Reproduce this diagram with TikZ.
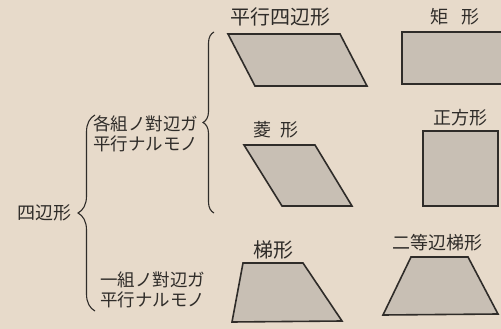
\documentclass[tikz,border=0pt]{standalone}
\usepackage{fontspec}
\setmainfont{Noto Sans CJK JP}
\usetikzlibrary{positioning,decorations.pathreplacing}
\definecolor{paper}{HTML}{E7DACA}
\definecolor{ink}{HTML}{2F2C29}
\definecolor{tint}{HTML}{C8BFB4}
\tikzset{
  lbl/.style={font=\fontsize{18}{20}\selectfont, text=ink, inner sep=0pt},
  wide/.style={lbl, font=\fontsize{20}{22}\selectfont},
  note/.style={lbl, align=left, anchor=west, font=\fontsize{17.5}{20}\selectfont},
  fig/.style={draw=ink, fill=tint, line width=1.6pt, line join=miter},
  brc/.style={draw=ink, line width=1.1pt, decorate, decoration={brace, amplitude=#1}}
}

\begin{document}
\begin{tikzpicture}[x=1pt, y=-1pt]
  \fill[paper] (0,0) rectangle (501,329);
  \useasboundingbox (0,0) rectangle (501,329);
  \clip (0,0) rectangle (501,329);

  % root and the two groups
  \node[lbl] (root) at (44,213) {四辺形};
  \node[note] (both) at (93,134) {各組ノ對辺ガ\\平行ナルモノ};
  \node[note] (one) at (100,290) {一組ノ對辺ガ\\平行ナルモノ};

  % braces
  \coordinate (rb-lo) at (95,311);
  \coordinate (rb-hi) at (95,115);
  \coordinate (gb-lo) at (214,213);
  \coordinate (gb-hi) at (214,32);
  \draw[brc=17] (rb-lo) -- (rb-hi);
  \draw[brc=11] (gb-lo) -- (gb-hi);

  % parallel on both pairs
  \draw[fig] (228,34) -- (340,34) -- (367,86) -- (255,86) -- cycle;
  \node[wide] (para) at (280,17) {平行四辺形};
  \draw[fig] (402,32) rectangle (530,84);
  \node[lbl] (rect) at (455,17) {矩\hspace{14pt}形};
  \draw[fig] (244,145) -- (315,145) -- (352,206) -- (282,206) -- cycle;
  \node[lbl] (rhomb) at (276,130) {菱\hspace{9pt}形};
  \draw[fig] (423,131) rectangle (498,206);
  \node[lbl] (sq) at (460,118) {正方形};

  % parallel on one pair
  \draw[fig] (243,263) -- (303,263) -- (342,321) -- (232,322) -- cycle;
  \node[wide] (trap) at (273,250) {梯形};
  \draw[fig] (411,257) -- (468,257) -- (498,314) -- (383,315) -- cycle;
  \node[lbl] (iso) at (437,243) {二等辺梯形};
\end{tikzpicture}
\end{document}
